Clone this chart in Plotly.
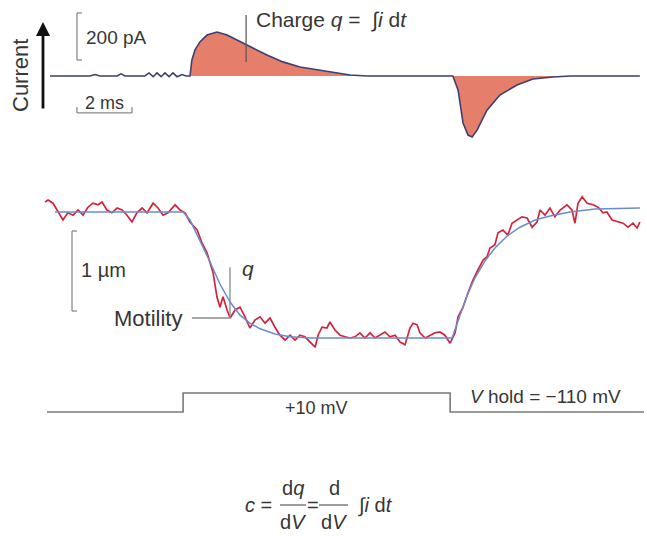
import plotly.graph_objects as go

# ---------------- data ----------------
# Current trace (time in ms, current in pA)
cur_t = [0, 1.45, 1.64, 1.82, 2.44, 2.58, 2.73, 3.45, 3.6, 3.75, 3.89, 4.04, 4.18, 4.33, 4.47, 4.62, 4.8, 4.95,
         5.09, 5.16, 5.27, 5.45, 5.71, 6.07, 6.44, 6.91, 7.38, 7.89, 8.47, 9.09, 9.71, 10.29, 10.91, 11.53,
         14.65, 14.84, 15.02, 15.2, 15.35, 15.53, 15.89, 16.36, 16.98, 17.56, 18.29, 18.91, 21.45]
cur_i = [0, 0, 6, 0, 0, 9, 0, 0, 13, -3, 13, -3, 13, -3, 13, -3, 6, 0,
         0, 68, 110, 145, 174, 187, 174, 145, 119, 89, 60, 38, 26, 13, 4, 0,
         0, -60, -200, -251, -259, -230, -145, -81, -38, -13, -4, 0, 0]

# Motility fit (time ms, displacement µm)
fit_t = [0.18, 4.84, 5.09, 5.45, 5.82, 6.18, 6.55, 6.91, 7.27, 7.64, 8.18, 8.73, 9.45, 14.55,
         14.62, 14.91, 15.16, 15.45, 15.82, 16.18, 16.62, 17.09, 17.64, 18.18, 18.91, 19.82, 21.45]
fit_x = [0, 0, -0.1, -0.35, -0.625, -0.9, -1.125, -1.29, -1.39, -1.46, -1.525, -1.56, -1.575, -1.575,
         -1.575, -1.29, -1.05, -0.825, -0.61, -0.45, -0.3, -0.19, -0.1, -0.05, 0, 0.0375, 0.05]

# Motility measured (time ms, displacement µm)
mot_t = [-0.18, -0.07, 0.11, 0.29, 0.47, 0.65, 0.84, 1.02, 1.2, 1.38, 1.56, 1.75, 1.89, 2.07, 2.25, 2.44,
         2.62, 2.8, 2.98, 3.16, 3.35, 3.53, 3.75, 3.93, 4.11, 4.29, 4.55, 4.73, 4.91, 5.09, 5.35, 5.53,
         5.71, 5.93, 6.07, 6.18, 6.29, 6.44, 6.55, 6.73, 6.91, 7.09, 7.27, 7.45, 7.64, 7.82, 8.0, 8.18,
         8.36, 8.55, 8.73, 8.91, 9.09, 9.27, 9.45, 9.64, 9.75, 9.89, 10.07, 10.18, 10.36, 10.55, 10.73,
         10.91, 11.09, 11.27, 11.45, 11.64, 11.82, 12.0, 12.18, 12.36, 12.55, 12.73, 12.91, 13.09, 13.2,
         13.35, 13.45, 13.64, 13.82, 14.0, 14.18, 14.36, 14.55, 14.73, 14.84, 15.02, 15.2, 15.38, 15.56,
         15.75, 15.89, 16.0, 16.18, 16.29, 16.47, 16.65, 16.8, 16.98, 17.16, 17.35, 17.53, 17.71, 17.82,
         18.0, 18.18, 18.36, 18.55, 18.8, 18.98, 19.09, 19.2, 19.35, 19.53, 19.75, 19.93, 20.11, 20.25,
         20.44, 20.65, 20.84, 21.02, 21.2, 21.35, 21.45]
mot_x = [0.125, 0.15, 0.11, 0, -0.1, -0.01, -0.04, 0.025, -0.04, 0.06, 0.11, 0.09, 0.125, 0.025, -0.01, 0.05,
         0.025, -0.04, -0.125, -0.01, 0.05, -0.01, 0.11, 0.05, -0.04, -0.01, 0.09, 0.025, -0.01, -0.125, -0.225, -0.39,
         -0.51, -0.76, -1.06, -1.19, -1.06, -1.225, -1.325, -1.225, -1.19, -1.31, -1.45, -1.35, -1.31, -1.39, -1.325, -1.44,
         -1.54, -1.6, -1.54, -1.6, -1.54, -1.56, -1.625, -1.69, -1.54, -1.44, -1.45, -1.375, -1.475, -1.54, -1.56,
         -1.575, -1.56, -1.51, -1.575, -1.51, -1.575, -1.54, -1.5, -1.56, -1.54, -1.625, -1.66, -1.45, -1.39,
         -1.41, -1.51, -1.575, -1.54, -1.51, -1.5, -1.54, -1.64, -1.51, -1.31, -1.19, -1.01, -0.85, -0.725,
         -0.6, -0.56, -0.45, -0.41, -0.26, -0.225, -0.29, -0.14, -0.1, -0.06, -0.075, -0.19, -0.125, 0.025,
         -0.04, 0.05, -0.06, 0.025, 0.09, 0.025, -0.14, 0.11, 0.19, 0.11, 0.09, 0.06, -0.01, 0,
         -0.1, -0.125, -0.14, -0.19, -0.14, -0.2, -0.125]

# Voltage protocol (time ms, mV)
v_t = [-0.11, 4.84, 4.84, 14.55, 14.55, 21.6]
v_mv = [-110, -110, 10, 10, -110, -110]

# Scale bars
SCALE_I = 200   # pA
SCALE_T = 2     # ms
SCALE_X = 1     # µm

# ---------------- styles / layout helpers ----------------
W, H = 647, 536
FONT = "Liberation Sans, Arial, Helvetica, sans-serif"
TXT = "#363636"
GREY = "#8a8a8a"
NAVY = "#3d3f6e"
SALMON = "#e57f6b"
RED = "#d2243c"
BLUE = "#6a8ccc"


def px(x):
    return x / W


def py(y):
    return 1 - y / H


fig = go.Figure()

# filled charge regions (subsets of the current trace)
i1a, i1b = cur_t.index(5.09), cur_t.index(11.53)
i2a, i2b = cur_t.index(14.65), cur_t.index(18.91)
for a, b in [(i1a, i1b), (i2a, i2b)]:
    fig.add_trace(go.Scatter(x=cur_t[a:b + 1], y=cur_i[a:b + 1], mode="lines", fill="tozeroy",
                             fillcolor=SALMON, line=dict(color=NAVY, width=0), yaxis="y",
                             hoverinfo="skip", showlegend=False))
fig.add_trace(go.Scatter(x=cur_t, y=cur_i, mode="lines", line=dict(color=NAVY, width=1.6),
                         yaxis="y", showlegend=False))

fig.add_trace(go.Scatter(x=mot_t, y=mot_x, mode="lines", line=dict(color=RED, width=1.7),
                         yaxis="y2", showlegend=False))
fig.add_trace(go.Scatter(x=fit_t, y=fit_x, mode="lines", line=dict(color=BLUE, width=1.5),
                         yaxis="y2", showlegend=False))

fig.add_trace(go.Scatter(x=v_t, y=v_mv, mode="lines", line=dict(color="#7a7a7a", width=1.6),
                         yaxis="y3", showlegend=False))

shapes = []


def seg(x0, y0, x1, y1, yref, color=GREY, width=1.3):
    shapes.append(dict(type="line", xref="x", yref=yref, x0=x0, y0=y0, x1=x1, y1=y1,
                       line=dict(color=color, width=width)))


# 200 pA bar
bx, by0 = 0.98, 68
seg(bx, by0, bx, by0 + SCALE_I, "y")
seg(bx, by0, bx + 0.18, by0, "y")
seg(bx, by0 + SCALE_I, bx + 0.18, by0 + SCALE_I, "y")
# 2 ms bar
tx0, ty = 0.98, -157
seg(tx0, ty, tx0 + SCALE_T, ty, "y")
seg(tx0, ty, tx0, ty + 25, "y")
seg(tx0 + SCALE_T, ty, tx0 + SCALE_T, ty + 25, "y")
# charge pointer
seg(7.13, 60, 7.13, 259, "y", color="#555555", width=1.2)
# 1 µm bar
mx, my1 = 0.8, -0.2375
seg(mx, my1, mx, my1 - SCALE_X, "y2")
seg(mx, my1, mx + 0.18, my1, "y2")
seg(mx, my1 - SCALE_X, mx + 0.18, my1 - SCALE_X, "y2")
# q / motility pointer
seg(6.545, -0.69, 6.545, -1.325, "y2")
seg(5.16, -1.325, 6.545, -1.325, "y2")

# fraction bars of the equation (paper)
for x0, x1 in [(280, 306), (319, 348)]:
    shapes.append(dict(type="line", xref="paper", yref="paper", x0=px(x0), x1=px(x1),
                       y0=py(505), y1=py(505), line=dict(color="#666666", width=1.3)))

ann = []


def text(x, y, s, size=14, xanchor="center", angle=0):
    ann.append(dict(x=px(x), y=py(y), xref="paper", yref="paper", text=s, showarrow=False,
                    font=dict(family=FONT, size=size, color=TXT), xanchor=xanchor,
                    yanchor="middle", textangle=angle))


text(21, 76, "Current", size=22, angle=-90)
ann.append(dict(x=px(43), y=py(22), xref="paper", yref="paper", ax=0, ay=88, text="",
                showarrow=True, arrowhead=2, arrowsize=1, arrowwidth=2.8, arrowcolor="#111111"))
text(84, 37, "200 pA", size=19, xanchor="left")
text(104, 103, "2 ms", size=18)
text(254, 20, "Charge <i>q</i> =  ∫<i>i</i> d<i>t</i>", size=21, xanchor="left")
text(79, 270, "1 µm", size=20, xanchor="left")
text(240, 268, "<i>q</i>", size=21, xanchor="left")
text(184, 318, "Motility", size=22, xanchor="right")
text(316, 408, "+10 mV", size=18)
text(545, 397, "<i>V</i> hold = −110 mV", size=19)
text(258, 505, "<i>c</i> =", size=20)
text(293, 488, "d<i>q</i>", size=20)
text(293, 522, "d<i>V</i>", size=20)
text(312.5, 505, "=", size=20)
text(334, 488, "d", size=20)
text(334, 522, "d<i>V</i>", size=20)
text(356, 505, "∫<i>i</i> d<i>t</i>", size=20, xanchor="left")

hidden = dict(visible=False, showgrid=False, zeroline=False, fixedrange=True)
fig.update_layout(
    width=W, height=H, margin=dict(l=0, r=0, t=0, b=0),
    paper_bgcolor="white", plot_bgcolor="white",
    xaxis=dict(range=[-50 / 27.5, 597 / 27.5], **hidden),
    yaxis=dict(domain=[1 - 160 / H, 1], range=[-357, 323], **hidden),
    yaxis2=dict(domain=[1 - 370 / H, 1 - 170 / H], range=[-1.975, 0.525], **hidden),
    yaxis3=dict(domain=[1 - 440 / H, 1 - 375 / H], range=[-286.8, 123.7], **hidden),
    shapes=shapes, annotations=ann, showlegend=False,
)

fig.write_html("out.html", config={"displayModeBar": False},
               post_script="document.body.style.margin='0';document.body.style.overflow='hidden';")
